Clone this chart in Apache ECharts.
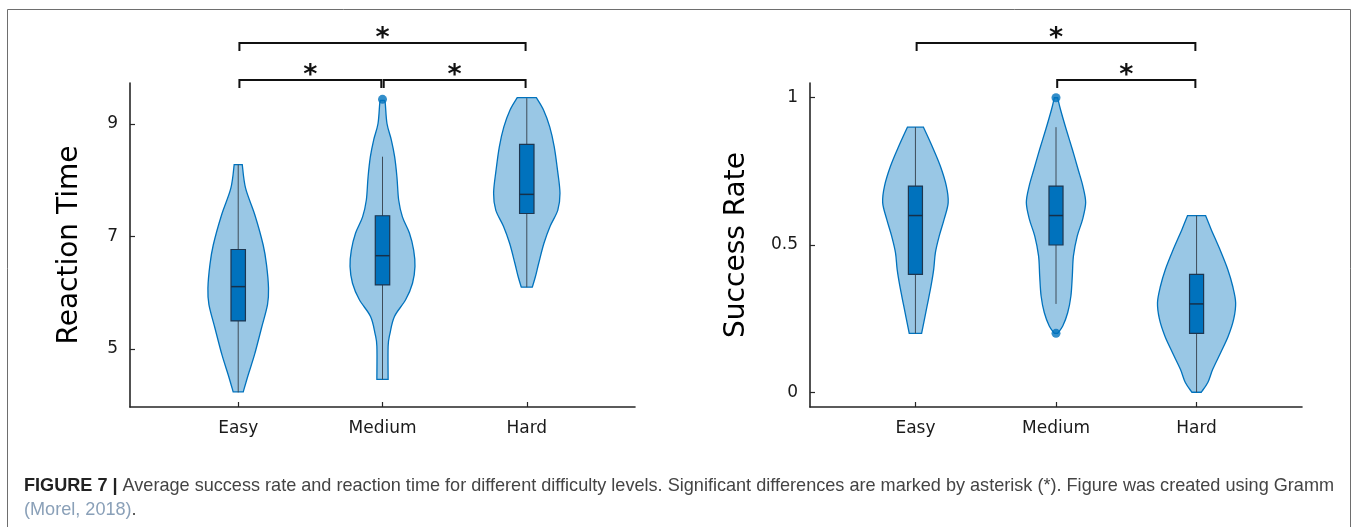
<!DOCTYPE html>
<html>
<head>
<meta charset="utf-8">
<script src="https://cdn.jsdelivr.net/npm/echarts@6/dist/echarts.min.js"></script>
<style>
  html, body { margin: 0; padding: 0; background: #fff; }
  #chart { width: 1358px; height: 527px; }
</style>
</head>
<body>
<div id="chart"></div>
<script>
// Difficulty levels and their positions on the x axis
const categories = ['Easy', 'Medium', 'Hard'];
const categoryPositions = [1, 2, 3];

// Violin outlines: [value, half-width in x-axis units], listed top to bottom
const rtEasy = [[8.28, 0.028], [7.86, 0.051], [7.38, 0.116], [6.85, 0.173], [6.50, 0.196], [6.08, 0.210],
  [5.79, 0.203], [5.37, 0.161], [4.90, 0.113], [4.54, 0.069], [4.24, 0.035]];
const rtMedium = [[9.42, 0.012], [9.37, 0.019], [9.01, 0.031], [8.72, 0.061], [8.42, 0.084], [8.06, 0.100],
  [7.65, 0.112], [7.35, 0.138], [7.06, 0.187], [6.76, 0.216], [6.47, 0.225], [6.17, 0.208], [5.88, 0.161],
  [5.58, 0.083], [5.28, 0.052], [5.05, 0.039], [4.46, 0.039]];
const rtHard = [[9.47, 0.066], [9.25, 0.116], [8.95, 0.159], [8.60, 0.190], [8.18, 0.213], [7.77, 0.230],
  [7.47, 0.215], [7.18, 0.161], [6.88, 0.119], [6.53, 0.083], [6.29, 0.060], [6.10, 0.038]];

const srEasy = [[0.90, 0.057], [0.836, 0.118], [0.768, 0.177], [0.70, 0.220], [0.644, 0.233], [0.587, 0.204],
  [0.53, 0.169], [0.474, 0.142], [0.417, 0.130], [0.361, 0.111], [0.293, 0.083], [0.20, 0.044]];
const srMedium = [[1.0, 0.012], [0.96, 0.032], [0.892, 0.073], [0.825, 0.116], [0.757, 0.157], [0.70, 0.191],
  [0.644, 0.211], [0.587, 0.189], [0.53, 0.151], [0.463, 0.124], [0.395, 0.116], [0.327, 0.106],
  [0.27, 0.083], [0.225, 0.048], [0.20, 0.012]];
const srHard = [[0.60, 0.064], [0.553, 0.104], [0.486, 0.165], [0.417, 0.222], [0.36, 0.257], [0.304, 0.278],
  [0.248, 0.264], [0.19, 0.225], [0.135, 0.172], [0.078, 0.115], [0.033, 0.080], [0.0, 0.033]];

// Box summaries: [lower whisker, Q1, median, Q3, upper whisker]
const rtBoxes = [[4.23, 5.50, 6.11, 6.77, 8.28], [4.46, 6.14, 6.66, 7.37, 8.42], [6.10, 7.41, 7.75, 8.64, 9.46]];
const srBoxes = [[0.20, 0.40, 0.60, 0.70, 0.90], [0.30, 0.50, 0.60, 0.70, 0.90], [0.00, 0.20, 0.30, 0.40, 0.60]];

// Outliers: [x position, value]
const rtOutliers = [[2, 9.44]];
const srOutliers = [[2, 1.0], [2, 0.2]];

// Significance brackets: [from, to, tier]
const rtBrackets = [[1, 3, 2], [1, 2, 1], [2, 3, 1]];
const srBrackets = [[1, 3, 2], [2, 3, 1]];

// Tick labels
const rtTicks = [5, 7, 9];
const srTicks = [0, 0.5, 1];

const BLUE = '#0072BD';
const AXIS_COLOR = '#262626';
const FONT = 'DejaVu Sans';
const BOX_HALF = 0.05;

function catmullRom(pts) {
  let d = '';
  for (let i = 0; i < pts.length - 1; i++) {
    const p0 = pts[Math.max(i - 1, 0)], p1 = pts[i], p2 = pts[i + 1], p3 = pts[Math.min(i + 2, pts.length - 1)];
    const c1x = p1[0] + (p2[0] - p0[0]) / 6, c1y = p1[1] + (p2[1] - p0[1]) / 6;
    const c2x = p2[0] - (p3[0] - p1[0]) / 6, c2y = p2[1] - (p3[1] - p1[1]) / 6;
    d += ' C' + c1x + ' ' + c1y + ' ' + c2x + ' ' + c2y + ' ' + p2[0] + ' ' + p2[1];
  }
  return d;
}

function violinRenderer(profiles) {
  return function (params, api) {
    const x = api.value(0);
    const prof = profiles[params.dataIndex];
    const right = prof.map(p => api.coord([x + p[1], p[0]]));
    const left = prof.slice().reverse().map(p => api.coord([x - p[1], p[0]]));
    const d = 'M' + right[0][0] + ' ' + right[0][1] + catmullRom(right) +
      ' L' + left[0][0] + ' ' + left[0][1] + catmullRom(left) + ' Z';
    const lo = api.coord([x, api.value(1)]);
    const q1 = api.coord([x - BOX_HALF, api.value(2)]);
    const med = api.value(3);
    const q3 = api.coord([x + BOX_HALF, api.value(4)]);
    const hi = api.coord([x, api.value(5)]);
    const mL = api.coord([x - BOX_HALF, med]);
    const mR = api.coord([x + BOX_HALF, med]);
    return {
      type: 'group',
      children: [
        { type: 'path', shape: { pathData: d },
          style: { fill: 'rgba(0,114,189,0.4)', stroke: BLUE, lineWidth: 1.3 } },
        { type: 'line', shape: { x1: lo[0], y1: lo[1], x2: hi[0], y2: hi[1] },
          style: { stroke: '#3e4c59', lineWidth: 1 } },
        { type: 'rect', shape: { x: q1[0], y: q3[1], width: q3[0] - q1[0], height: q1[1] - q3[1] },
          style: { fill: BLUE, stroke: '#1d3650', lineWidth: 1.2 } },
        { type: 'line', shape: { x1: mL[0], y1: mL[1], x2: mR[0], y2: mR[1] },
          style: { stroke: '#15304a', lineWidth: 1.5 } }
      ]
    };
  };
}

function bracketRenderer(params, api) {
  const from = api.value(0), to = api.value(1), tier = api.value(2);
  const top = params.coordSys.y;
  const y = top - (tier === 2 ? 40 : 3);
  const x1 = api.coord([from, 0])[0] + 1.2;
  const x2 = api.coord([to, 0])[0] - 1.2;
  return {
    type: 'group',
    children: [
      { type: 'polyline', shape: { points: [[x1, y + 8], [x1, y], [x2, y], [x2, y + 8]] },
        style: { stroke: '#111', lineWidth: 2, fill: null } },
      { type: 'text', x: (x1 + x2) / 2, y: y - 4,
        style: { text: '*', fill: '#111', font: 'bold 27px "DejaVu Sans"', align: 'center', verticalAlign: 'middle' } }
    ]
  };
}

function xAxisFor(gridIndex) {
  return {
    type: 'value', gridIndex, min: 0.25, max: 3.75,
    axisLine: { onZero: false, lineStyle: { color: AXIS_COLOR, width: 1.6 } },
    axisTick: { inside: true, length: 5, customValues: categoryPositions, lineStyle: { color: AXIS_COLOR, width: 1.2 } },
    axisLabel: { customValues: categoryPositions, margin: 13, color: '#1a1a1a', fontFamily: FONT, fontSize: 17,
      formatter: v => categories[Math.round(v) - 1] },
    splitLine: { show: false }
  };
}

function yAxisFor(gridIndex, name, min, max, ticks, gap) {
  return {
    type: 'value', gridIndex, min, max, name, nameLocation: 'middle', nameRotate: 90, nameGap: gap,
    nameTextStyle: { fontFamily: FONT, fontSize: 28, color: '#000' },
    axisLine: { show: true, onZero: false, lineStyle: { color: AXIS_COLOR, width: 1.6 } },
    axisTick: { show: true, inside: true, length: 5, customValues: ticks, lineStyle: { color: AXIS_COLOR, width: 1.2 } },
    axisLabel: { customValues: ticks, margin: 12, color: '#1a1a1a', fontFamily: FONT, fontSize: 17 },
    splitLine: { show: false }
  };
}

const chart = echarts.init(document.getElementById('chart'), null, { renderer: 'canvas' });

chart.setOption({
  backgroundColor: '#fff',
  animation: false,
  grid: [
    { left: 130, top: 83, width: 505, height: 324 },
    { left: 810, top: 83, width: 492, height: 324 }
  ],
  xAxis: [xAxisFor(0), xAxisFor(1)],
  yAxis: [
    yAxisFor(0, 'Reaction Time', 3.97, 9.73, rtTicks, 46),
    yAxisFor(1, 'Success Rate', -0.05, 1.05, srTicks, 59)
  ],
  series: [
    { type: 'custom', xAxisIndex: 0, yAxisIndex: 0, renderItem: violinRenderer([rtEasy, rtMedium, rtHard]),
      data: categoryPositions.map((x, i) => [x].concat(rtBoxes[i])), encode: { x: 0, y: [1, 5] } },
    { type: 'custom', xAxisIndex: 1, yAxisIndex: 1, renderItem: violinRenderer([srEasy, srMedium, srHard]),
      data: categoryPositions.map((x, i) => [x].concat(srBoxes[i])), encode: { x: 0, y: [1, 5] } },
    { type: 'scatter', xAxisIndex: 0, yAxisIndex: 0, data: rtOutliers, symbolSize: 9, itemStyle: { color: BLUE } },
    { type: 'scatter', xAxisIndex: 1, yAxisIndex: 1, data: srOutliers, symbolSize: 9, itemStyle: { color: BLUE } },
    { type: 'custom', xAxisIndex: 0, yAxisIndex: 0, clip: false, renderItem: bracketRenderer, data: rtBrackets },
    { type: 'custom', xAxisIndex: 1, yAxisIndex: 1, clip: false, renderItem: bracketRenderer, data: srBrackets }
  ],
  graphic: [
    { type: 'rect', shape: { x: 7.5, y: 9.5, width: 1343, height: 540 },
      style: { fill: null, stroke: '#6e6e6e', lineWidth: 1 }, silent: true },
    { type: 'text', left: 24, top: 477,
      style: {
        text: '{b|FIGURE 7 |} Average success rate and reaction time for different difficulty levels. Significant differences are marked by asterisk (*). Figure was created using Gramm',
        font: '18.1px "Liberation Sans"', fill: '#444',
        rich: { b: { font: 'bold 18.1px "Liberation Sans"', fill: '#222' } }
      } },
    { type: 'text', left: 24, top: 501,
      style: {
        text: '{l|(Morel, 2018)}.',
        font: '18.1px "Liberation Sans"', fill: '#444',
        rich: { l: { font: '18.1px "Liberation Sans"', fill: '#8aa0b8' } }
      } }
  ]
});
</script>
</body>
</html>
